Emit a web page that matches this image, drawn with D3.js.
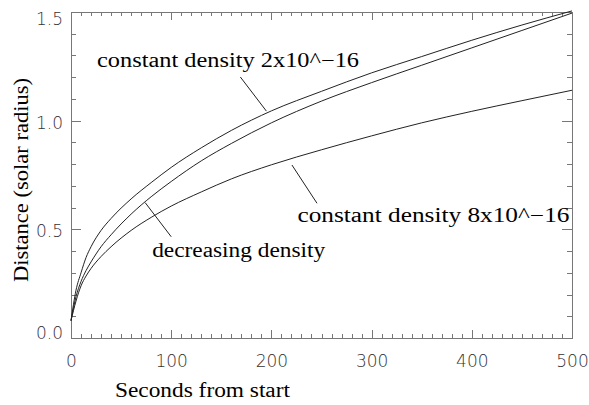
<!DOCTYPE html>
<html lang="en">
<head>
<meta charset="utf-8">
<title>Distance vs time</title>
<script src="https://d3js.org/d3.v7.min.js"></script>
<style>
  body { margin: 0; background: #fff; }
  .axis path, .axis line { stroke: #777; shape-rendering: crispEdges; }
  .axis text { font-family: "DejaVu Sans", sans-serif; font-weight: 200; font-size: 17px; fill: #333; }
  .serif { font-family: "Liberation Serif", "Times New Roman", serif; font-size: 20px; fill: #000; }
</style>
</head>
<body>
<div id="chart"></div>
<script>
// time in seconds from start
var seconds = [0, 5, 10, 15, 20, 30, 40, 60, 80, 100, 130, 160, 200, 250, 300, 350, 400, 450, 500];
// distance (solar radius) for the three runs
var const2e16 = [0.08, 0.22, 0.30, 0.37, 0.42, 0.495, 0.55, 0.64, 0.715, 0.785, 0.875, 0.955, 1.045, 1.135, 1.22, 1.295, 1.37, 1.44, 1.505];
var decreasing = [0.08, 0.19, 0.26, 0.31, 0.35, 0.42, 0.475, 0.57, 0.65, 0.72, 0.815, 0.895, 0.99, 1.09, 1.175, 1.255, 1.335, 1.415, 1.495];
var const8e16 = [0.08, 0.17, 0.24, 0.285, 0.32, 0.375, 0.42, 0.495, 0.555, 0.607, 0.672, 0.732, 0.797, 0.866, 0.93, 0.99, 1.043, 1.092, 1.14];

var xTicks = [0, 100, 200, 300, 400, 500];
var yTicks = [0.0, 0.5, 1.0, 1.5];

// annotation labels and their leader lines (data coords)
var labels = ["constant density 2x10^\u221216", "constant density 8x10^\u221216", "decreasing density"];
var labelPos = [[26, 1.247], [226, 0.532], [81, 0.373]];
var labelLen = [262, 272, 173];
var leaders = [[[169, 1.201], [195, 1.044]], [[220.5, 0.796], [245.5, 0.62]], [[74, 0.623], [100, 0.466]]];

var w = 589, h = 405;
var padLeft = 71, padRight = 572, padTop = 12, padBottom = 338;

var svg = d3.select("#chart").append("svg")
    .attr("width", w)
    .attr("height", h);

var xScale = d3.scaleLinear().domain([0, 500]).range([padLeft, padRight]);
var yScale = d3.scaleLinear().domain([0, 1.5]).range([padBottom, padTop]);

var xMinor = d3.range(0, 501, 10).filter(function(v) { return v % 100 != 0; });
var yMinor = d3.range(0, 16).map(function(v) { return v / 10; }).filter(function(v) { return Math.round(v * 10) % 5 != 0; });

// bottom axis
svg.append("g").attr("class", "axis")
    .attr("transform", "translate(0," + padBottom + ")")
    .call(d3.axisBottom(xScale).tickValues(xMinor).tickSize(-4).tickFormat(""));
svg.append("g").attr("class", "axis")
    .attr("transform", "translate(0," + padBottom + ")")
    .call(d3.axisBottom(xScale).tickValues(xTicks).tickSize(-8).tickPadding(17).tickFormat(d3.format("d")));
// top axis
svg.append("g").attr("class", "axis")
    .attr("transform", "translate(0," + padTop + ")")
    .call(d3.axisTop(xScale).tickValues(xMinor).tickSize(-4).tickFormat(""));
svg.append("g").attr("class", "axis")
    .attr("transform", "translate(0," + padTop + ")")
    .call(d3.axisTop(xScale).tickValues(xTicks).tickSize(-8).tickFormat(""));
// left axis
svg.append("g").attr("class", "axis")
    .attr("transform", "translate(" + padLeft + ",0)")
    .call(d3.axisLeft(yScale).tickValues(yMinor).tickSize(-5).tickFormat(""));
var yAx = svg.append("g").attr("class", "axis")
    .attr("transform", "translate(" + padLeft + ",0)")
    .call(d3.axisLeft(yScale).tickValues(yTicks).tickSize(-10).tickPadding(8).tickFormat(d3.format(".1f")));
yAx.selectAll(".tick text").attr("dy", function(d) {
    if (d == 0) return "-0.0em";
    if (d == 1.5) return "0.72em";
    return "0.45em";
});
// right axis
svg.append("g").attr("class", "axis")
    .attr("transform", "translate(" + padRight + ",0)")
    .call(d3.axisRight(yScale).tickValues(yMinor).tickSize(-5).tickFormat(""));
svg.append("g").attr("class", "axis")
    .attr("transform", "translate(" + padRight + ",0)")
    .call(d3.axisRight(yScale).tickValues(yTicks).tickSize(-10).tickFormat(""));

// curves
var line = d3.line()
    .x(function(d) { return xScale(d[0]); })
    .y(function(d) { return yScale(d[1]); })
    .curve(d3.curveMonotoneX);

[const2e16, decreasing, const8e16].forEach(function(series) {
    svg.append("path")
        .datum(d3.zip(seconds, series))
        .attr("d", line)
        .attr("fill", "none")
        .attr("stroke", "#222")
        .attr("stroke-width", 1);
});

// leader lines
svg.selectAll(".leader")
    .data(leaders)
    .enter()
    .append("line")
    .attr("class", "leader")
    .attr("x1", function(d) { return xScale(d[0][0]); })
    .attr("y1", function(d) { return yScale(d[0][1]); })
    .attr("x2", function(d) { return xScale(d[1][0]); })
    .attr("y2", function(d) { return yScale(d[1][1]); })
    .attr("stroke", "#222")
    .attr("stroke-width", 1);

// annotation labels
svg.selectAll(".note")
    .data(labels)
    .enter()
    .append("text")
    .attr("class", "serif note")
    .attr("x", function(d, i) { return xScale(labelPos[i][0]); })
    .attr("y", function(d, i) { return yScale(labelPos[i][1]); })
    .attr("textLength", function(d, i) { return labelLen[i]; })
    .attr("lengthAdjust", "spacingAndGlyphs")
    .text(function(d) { return d; });

// axis titles
svg.append("text")
    .attr("class", "serif")
    .attr("x", 115)
    .attr("y", 397)
    .attr("textLength", 175)
    .attr("lengthAdjust", "spacingAndGlyphs")
    .text("Seconds from start");

svg.append("text")
    .attr("class", "serif")
    .attr("transform", "translate(28,180) rotate(-90)")
    .attr("text-anchor", "middle")
    .style("font-size", "21px")
    .attr("textLength", 204)
    .attr("lengthAdjust", "spacingAndGlyphs")
    .text("Distance (solar radius)");
</script>
</body>
</html>
